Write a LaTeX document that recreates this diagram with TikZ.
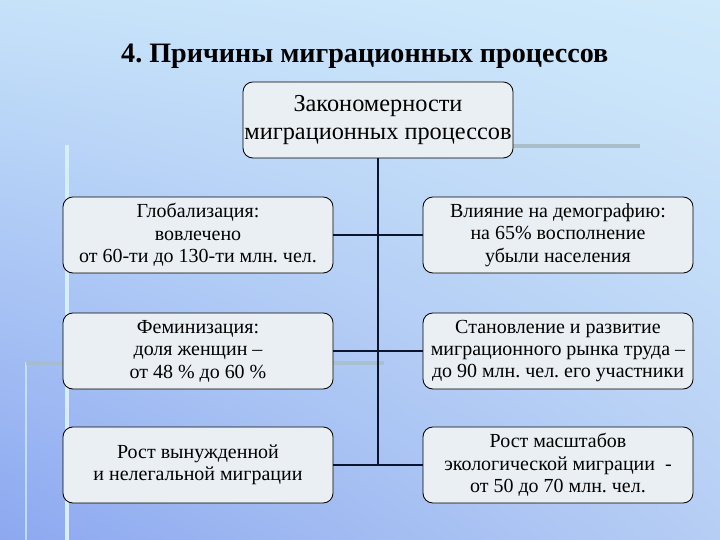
\documentclass[tikz,border=0pt]{standalone}
\usepackage{fontspec}
\setmainfont{Liberation Serif}
\usetikzlibrary{shadings}
\frenchspacing
\definecolor{bgul}{HTML}{C6E2F9}
\definecolor{bgur}{HTML}{D0EAFB}
\definecolor{bgll}{HTML}{8DA8F0}
\definecolor{bglr}{HTML}{B6CEF4}
\definecolor{boxfill}{HTML}{E9EFF3}
\definecolor{linkcol}{HTML}{0B1530}
\definecolor{deco}{HTML}{A8BEC8}
\definecolor{decopale}{HTML}{D6EEF8}

\begin{document}
\begin{tikzpicture}[
	box/.style={draw=black, fill=boxfill, rounded corners=7pt, line width=0.6pt,
		minimum width=6.75cm, minimum height=1.9cm, align=center, inner sep=1pt,
		font=\fontsize{14.2}{16}\selectfont},
	link/.style={draw=linkcol, line width=1.5pt}
	]
		%draw background
		\shade[upper left=bgul, upper right=bgur, lower left=bgll, lower right=bglr]
		(0,0) rectangle (18,13.5);
		\useasboundingbox (0,0) rectangle (18,13.5);
		%draw template lines
		\draw[decopale, line width=3pt] (1.675,9.875) -- (1.675,0);
		\draw[decopale, line width=2pt, opacity=0.7] (0.65,4.45) -- (0.65,0);
		\draw[deco, line width=3pt] (12.8,9.85) -- (16,9.85);
		\draw[deco, line width=3pt, opacity=0.8] (0.65,4.43) -- (9.6,4.43);
		%draw title
		\node (title) at (9.12,12.1) {\fontsize{20}{24}\selectfont\bfseries 4. Причины миграционных процессов};
		%draw boxes
		\node[box, font=\fontsize{17.3}{20}\selectfont] (top) at (9.45,10.5) {Закономерности\\миграционных процессов};
		\node[box] (glob) at (4.95,7.625) {Глобализация:\\вовлечено\\от 60-ти до 130-ти млн. чел.};
		\node[box] (dem) at (13.95,7.625) {Влияние на демографию:\\на 65\% восполнение\\убыли населения};
		\node[box] (fem) at (4.95,4.725) {Феминизация:\\доля женщин –\\от 48 \% до 60 \%};
		\node[box, font=\fontsize{14.2}{15.5}\selectfont] (market) at (13.95,4.725) {Становление и развитие\\миграционного рынка труда –\\до 90 млн. чел. его участники};
		\node[box] (illeg) at (4.95,1.875) {Рост вынужденной\\и нелегальной миграции};
		\node[box] (eco) at (13.95,1.875) {Рост масштабов\\экологической миграции~~-\\от 50 до 70 млн. чел.};
		%draw connections
		\coordinate (trunk) at (top.south |- illeg.east);
		\draw[link, line width=1.2pt] (top.south) -- (trunk);
		\draw[link] (glob) -- (dem);
		\draw[link] (fem) -- (market);
		\draw[link] (illeg) -- (eco);
		
	\end{tikzpicture}
\end{document}
